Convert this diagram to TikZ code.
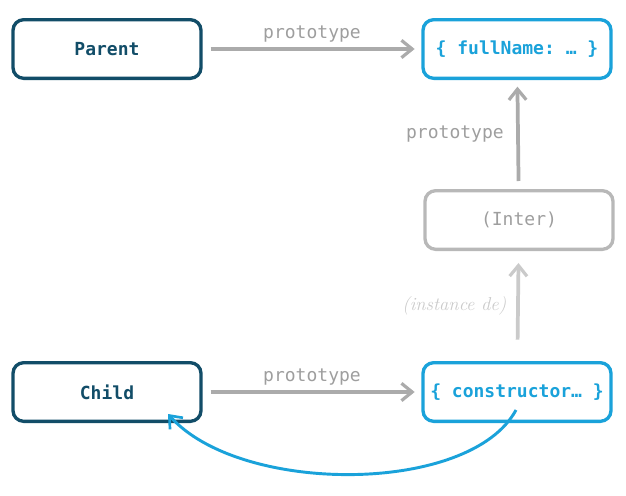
\documentclass[tikz,border=0pt]{standalone}
\usepackage{fontspec}
\setmonofont{DejaVu Sans Mono}
\usepackage{xcolor}
\usetikzlibrary{arrows.meta, calc}

\definecolor{darkteal}{HTML}{124D68}
\definecolor{protoblue}{HTML}{1AA2DA}
\definecolor{linkgray}{HTML}{ABABAB}
\definecolor{softgray}{HTML}{CACACA}
\definecolor{labelgray}{HTML}{9E9E9E}

\begin{document}
\begin{tikzpicture}[
  x=0.75pt, y=-0.75pt,
  obj/.style={draw, rounded corners=8pt, line width=2.5pt, minimum width=141pt, minimum height=44pt,
              font=\ttfamily\bfseries\fontsize{13.5}{15}\selectfont},
  fn/.style={obj, draw=darkteal, text=darkteal},
  proto/.style={obj, draw=protoblue, text=protoblue},
  inter/.style={obj, draw=linkgray!85, text=labelgray, font=\ttfamily\fontsize{13.5}{15}\selectfont},
  link/.style={-{Straight Barb[length=8pt, width=13pt, line width=2.4pt]}, line width=2.8pt, draw=linkgray,
               shorten <=6pt, shorten >=5pt},
  lbl/.style={font=\ttfamily\fontsize{13.5}{15}\selectfont, text=labelgray, midway}
]
\useasboundingbox (0,0) rectangle (626,496);

\node[fn] (parent) at (107,49) {Parent};
\node[proto] (fullname) at (517,49) {\{ fullName: … \}};
\node[inter] (inter) at (519,220) {(Inter)};
\node[fn] (child) at (107,392) {Child};
\node[proto] (ctor) at (517,392) {\{ constructor… \}};

\draw[link] (parent) -- (fullname) node[lbl, above=0pt]{prototype};
\draw[link] (child) -- (ctor) node[lbl, above=0pt]{prototype};
\draw[link] (inter) -- (fullname) node[lbl, left=6pt]{prototype};
\draw[link, draw=softgray, shorten <=16pt, shorten >=9pt] (ctor) -- (inter)
  node[midway, left=4pt, text=softgray, font=\itshape\fontsize{14}{16}\selectfont]{(instance de)};

% constructor points back to Child
\draw[-{Straight Barb[length=8pt, width=13pt, line width=2pt]}, line width=2.2pt, draw=protoblue]
  ($(ctor.center)+(-1,18)$) .. controls (470,495) and (240,495) .. ($(child.center)+(61,22)$);
\end{tikzpicture}
\end{document}
